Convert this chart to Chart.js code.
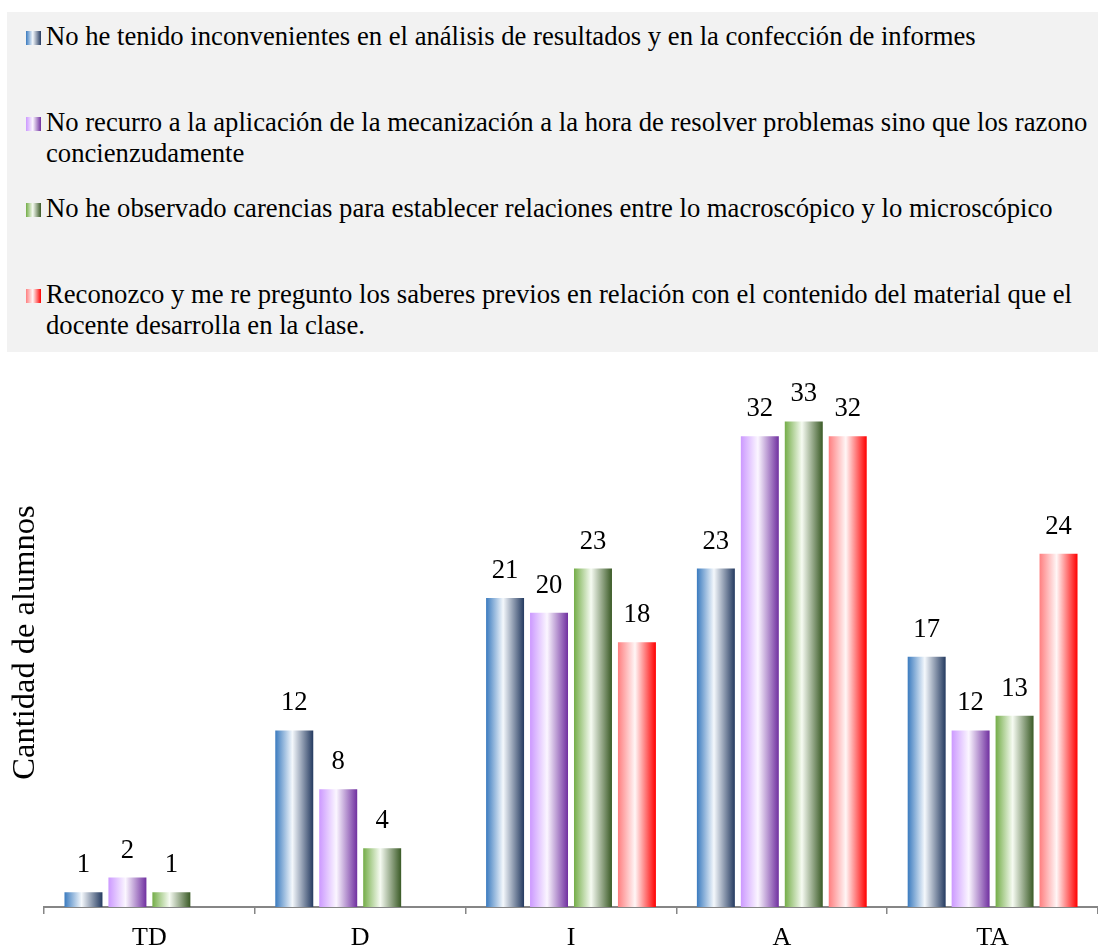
<!DOCTYPE html>
<html>
<head>
<meta charset="utf-8">
<script src="https://cdn.jsdelivr.net/npm/chart.js@4"></script>
<style>
    body { margin: 0; background: #fff; }
    #wrap { position: relative; width: 1098px; height: 948px; }
    #legendBox { position: absolute; left: 7px; top: 12px; width: 1091px; height: 340px; background: #f2f2f2; }
    .item { position: absolute; left: 39px; width: 1048px; font-family: "Liberation Serif", "Times New Roman", serif; font-size: 26.67px; line-height: 31px; color: #000; }
    .mark { position: absolute; left: -20px; top: 10.5px; width: 15px; height: 14px; }
    canvas { position: absolute; left: 0; top: 0; }
</style>
</head>
<body>
<div id="wrap">
    <div id="legendBox"></div>
    <canvas id="chart" width="1098" height="948"></canvas>
</div>
<script>
const categories = ['TD', 'D', 'I', 'A', 'TA'];
const seriesNames = [
    'No he tenido inconvenientes en el análisis de resultados y en la confección de informes',
    'No recurro a la aplicación de la mecanización a la hora de resolver problemas sino que los razono concienzudamente',
    'No he observado carencias para establecer relaciones entre lo macroscópico y lo microscópico',
    'Reconozco y me re pregunto los saberes previos en relación con el contenido del material que el docente desarrolla en la clase.'
];
const serie1 = [1, 12, 21, 23, 17];
const serie2 = [2, 8, 20, 32, 12];
const serie3 = [1, 4, 23, 33, 13];
const serie4 = [null, null, 18, 32, 24];
const yTitle = 'Cantidad de alumnos';

// colores del degradado: claro, blanco, oscuro
const gradColors = [
    ['#3b7bbf', '#f4f8fc', '#243a60'],
    ['#cc99ff', '#fbf6ff', '#7030a0'],
    ['#74ad48', '#f6fbf2', '#3a5a26'],
    ['#ff7f80', '#fff6f6', '#ff0000']
];
const legendTops = [8.5, 94.5, 180.5, 266.5];

// leyenda en HTML (textos largos con salto de línea)
const box = document.getElementById('legendBox');
seriesNames.forEach((name, i) => {
    const c = gradColors[i];
    const div = document.createElement('div');
    div.className = 'item';
    div.style.top = legendTops[i] + 'px';
    div.innerHTML = '<span class="mark" style="background:linear-gradient(to right,' +
        c[0] + ' 0%,' + c[1] + ' 45%,' + c[2] + ' 100%)"></span>' + name;
    box.appendChild(div);
});

const gradientBars = {
    id: 'gradientBars',
    beforeDatasetsDraw(chart) {
        const ctx = chart.ctx;
        chart.data.datasets.forEach((ds, i) => {
            const c = gradColors[i];
            chart.getDatasetMeta(i).data.forEach(bar => {
                if (!bar.width) return;
                const g = ctx.createLinearGradient(bar.x - bar.width / 2, 0, bar.x + bar.width / 2, 0);
                g.addColorStop(0, c[0]);
                g.addColorStop(0.45, c[1]);
                g.addColorStop(1, c[2]);
                bar.options = Object.assign({}, bar.options, { backgroundColor: g });
            });
        });
    }
};

const valueLabels = {
    id: 'valueLabels',
    afterDatasetsDraw(chart) {
        const ctx = chart.ctx;
        ctx.save();
        ctx.font = '26.67px "Liberation Serif"';
        ctx.fillStyle = '#000';
        ctx.textAlign = 'center';
        ctx.textBaseline = 'middle';
        chart.data.datasets.forEach((ds, i) => {
            chart.getDatasetMeta(i).data.forEach((bar, j) => {
                const v = ds.data[j];
                if (v === null) return;
                ctx.fillText(String(v), bar.x, bar.y - 27);
            });
        });
        // título del eje Y
        const area = chart.chartArea;
        ctx.translate(chart.scales.y.left + 25, (area.top + area.bottom) / 2 - 7);
        ctx.rotate(-Math.PI / 2);
        ctx.font = '32.5px "Liberation Serif"';
        ctx.fillText(yTitle, 0, 0);
        ctx.restore();
    }
};

const seriesData = [serie1, serie2, serie3, serie4];

new Chart(document.getElementById('chart').getContext('2d'), {
    type: 'bar',
    data: {
        labels: categories,
        datasets: seriesData.map((d, i) => ({
            label: seriesNames[i],
            data: d,
            backgroundColor: gradColors[i][0],
            borderWidth: 0,
            categoryPercentage: 0.834,
            barPercentage: 0.864
        }))
    },
    options: {
        responsive: false,
        animation: false,
        layout: { padding: { top: 392, left: 0, right: 0, bottom: 0 } },
        plugins: {
            legend: { display: false },
            tooltip: { enabled: false }
        },
        scales: {
            x: {
                grid: {
                    offset: true,
                    drawOnChartArea: false,
                    color: '#868686',
                    tickLength: 7,
                    lineWidth: 1.5
                },
                border: { color: '#868686', width: 2 },
                ticks: {
                    color: '#000',
                    font: { family: 'Liberation Serif', size: 26 },
                    padding: 9
                },
                afterFit(scale) { scale.height = 41; }
            },
            y: {
                min: 0,
                max: 35,
                grid: { display: false },
                border: { display: false },
                ticks: { display: false },
                afterFit(scale) { scale.width = 44; }
            }
        }
    },
    plugins: [gradientBars, valueLabels]
});
</script>
</body>
</html>
